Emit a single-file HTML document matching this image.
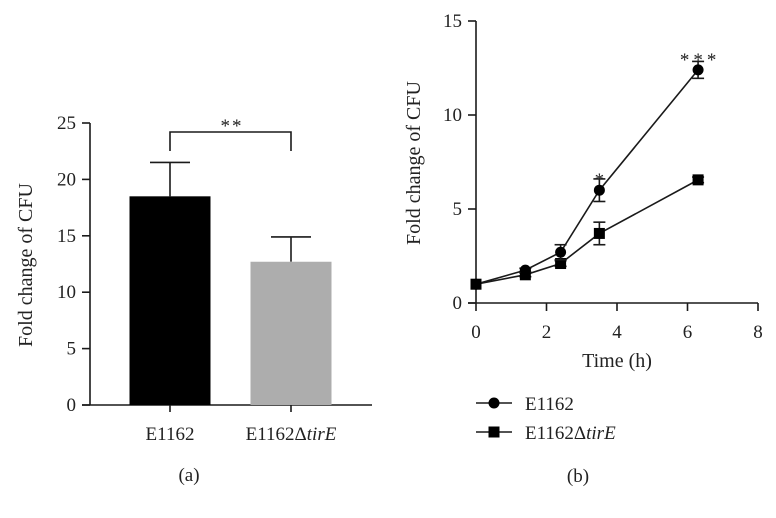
<!DOCTYPE html>
<html><head><meta charset="utf-8"><style>
body{margin:0;background:#fff;}
svg{display:block;font-family:"Liberation Serif",serif;}
</style></head><body>
<svg width="776" height="518" viewBox="0 0 776 518">
<g id="ga"></g>
<g id="gb"></g>
</svg>
<script>
const barCats=["E1162","E1162Δ"];
const barVals=[18.5,12.7];
const barErr=[3.0,2.2];
const barTicks=[0,5,10,15,20,25];
const lineT=[0,1.4,2.4,3.5,6.3];
const wtVals=[1.0,1.75,2.7,6.0,12.4];
const wtErr=[0,0.1,0.4,0.6,0.45];
const mutVals=[1.0,1.5,2.1,3.7,6.55];
const mutErr=[0,0.1,0.15,0.6,0.15];
const lineYTicks=[0,5,10,15];
const lineXTicks=[0,2,4,6,8];

const NS="http://www.w3.org/2000/svg";
function mk(p,tag,attrs,txt){const e=document.createElementNS(NS,tag);for(const k in attrs)e.setAttribute(k,attrs[k]);if(txt!==undefined)e.textContent=txt;p.appendChild(e);return e;}
const S={stroke:"#1a1a1a","stroke-width":"1.6",fill:"none"};
const FS=19, TS=20;

// ---- chart a
const ga=document.getElementById('ga');
const ya=v=>405-v*11.28;
const barX=[170,291],barW=81;
let e=mk(ga,'line',Object.assign({x1:90,y1:ya(25),x2:90,y2:405},S));

e=mk(ga,'line',Object.assign({x1:82,y1:405,x2:372,y2:405},S));

barTicks.forEach(t=>{
  mk(ga,'line',Object.assign({x1:82,y1:ya(t),x2:90,y2:ya(t)},S));
  const l=mk(ga,'text',{x:76,y:ya(t)+6,'text-anchor':'end','font-size':FS,fill:'#222'},t);
  
});
barVals.forEach((v,i)=>{
  const cx=barX[i];
  mk(ga,'line',Object.assign({x1:cx,y1:ya(v),x2:cx,y2:ya(v+barErr[i])},S));
  mk(ga,'line',Object.assign({x1:cx-20,y1:ya(v+barErr[i]),x2:cx+20,y2:ya(v+barErr[i])},S));
  const r=mk(ga,'rect',{x:cx-barW/2,y:ya(v),width:barW,height:405-ya(v),fill:i?'#adadad':'#000'});
  
  mk(ga,'line',Object.assign({x1:cx,y1:405,x2:cx,y2:412},S));
});
let l=mk(ga,'text',{x:barX[0],y:440,'text-anchor':'middle','font-size':FS,fill:'#222'},barCats[0]);

l=mk(ga,'text',{x:barX[1],y:440,'text-anchor':'middle','font-size':FS,fill:'#222'});

l.innerHTML='E1162Δ<tspan font-style="italic">tirE</tspan>';
e=mk(ga,'path',Object.assign({d:`M${barX[0]},151 V132 H${barX[1]} V151`},S));

l=mk(ga,'text',{x:232,y:132,'text-anchor':'middle','font-size':FS,fill:'#222','letter-spacing':'2'},'**');

l=mk(ga,'text',{x:0,y:0,'text-anchor':'middle','font-size':TS,fill:'#222',transform:'translate(32,265) rotate(-90)'},'Fold change of CFU');

l=mk(ga,'text',{x:189,y:481,'text-anchor':'middle','font-size':FS,fill:'#222'},'(a)');


// ---- chart b
const gb=document.getElementById('gb');
const xb=t=>476+t*35.25, yb=v=>303-v*18.8;
e=mk(gb,'line',Object.assign({x1:476,y1:yb(15),x2:476,y2:303},S));

e=mk(gb,'line',Object.assign({x1:468,y1:303,x2:xb(8),y2:303},S));

lineYTicks.forEach(t=>{
  mk(gb,'line',Object.assign({x1:468,y1:yb(t),x2:476,y2:yb(t)},S));
  const q=mk(gb,'text',{x:462,y:yb(t)+6,'text-anchor':'end','font-size':FS,fill:'#222'},t);
  
});
lineXTicks.forEach(t=>{
  mk(gb,'line',Object.assign({x1:xb(t),y1:303,x2:xb(t),y2:311},S));
  const q=mk(gb,'text',{x:xb(t),y:338,'text-anchor':'middle','font-size':FS,fill:'#222'},t);
  
});
function series(vals,errs,shape,name){
  const g=mk(gb,'g',{});
  
  mk(g,'polyline',Object.assign({points:lineT.map((t,i)=>xb(t)+','+yb(vals[i])).join(' ')},S));
  lineT.forEach((t,i)=>{
    const x=xb(t);
    if(errs[i]>0.05){
      mk(g,'line',Object.assign({x1:x,y1:yb(vals[i]-errs[i]),x2:x,y2:yb(vals[i]+errs[i])},S));
      [vals[i]-errs[i],vals[i]+errs[i]].forEach(v=>mk(g,'line',Object.assign({x1:x-6,y1:yb(v),x2:x+6,y2:yb(v)},S)));
    }
    if(shape==='c') mk(g,'circle',{cx:x,cy:yb(vals[i]),r:5.5,fill:'#000'});
    else mk(g,'rect',{x:x-5.5,y:yb(vals[i])-5.5,width:11,height:11,fill:'#000'});
  });
}
series(mutVals,mutErr,'s','series-mutant');
series(wtVals,wtErr,'c','series-e1162');
l=mk(gb,'text',{x:xb(3.5),y:186,'text-anchor':'middle','font-size':FS,fill:'#222'},'*');

l=mk(gb,'text',{x:xb(6.3)+2,y:66,'text-anchor':'middle','font-size':FS,fill:'#222','letter-spacing':'4'},'***');

l=mk(gb,'text',{x:617,y:367,'text-anchor':'middle','font-size':TS,fill:'#222'},'Time (h)');

l=mk(gb,'text',{x:0,y:0,'text-anchor':'middle','font-size':TS,fill:'#222',transform:'translate(420,163) rotate(-90)'},'Fold change of CFU');

// legend
let lg=mk(gb,'g',{});

mk(lg,'line',Object.assign({x1:476,y1:403,x2:512,y2:403},S));
mk(lg,'circle',{cx:494,cy:403,r:5.5,fill:'#000'});
mk(lg,'text',{x:525,y:410,'font-size':FS,fill:'#222'},'E1162');
lg=mk(gb,'g',{});

mk(lg,'line',Object.assign({x1:476,y1:432,x2:512,y2:432},S));
mk(lg,'rect',{x:488.5,y:426.5,width:11,height:11,fill:'#000'});
const lt=mk(lg,'text',{x:525,y:439,'font-size':FS,fill:'#222'});
lt.innerHTML='E1162Δ<tspan font-style="italic">tirE</tspan>';
l=mk(gb,'text',{x:578,y:482,'text-anchor':'middle','font-size':FS,fill:'#222'},'(b)');

</script>
</body></html>
